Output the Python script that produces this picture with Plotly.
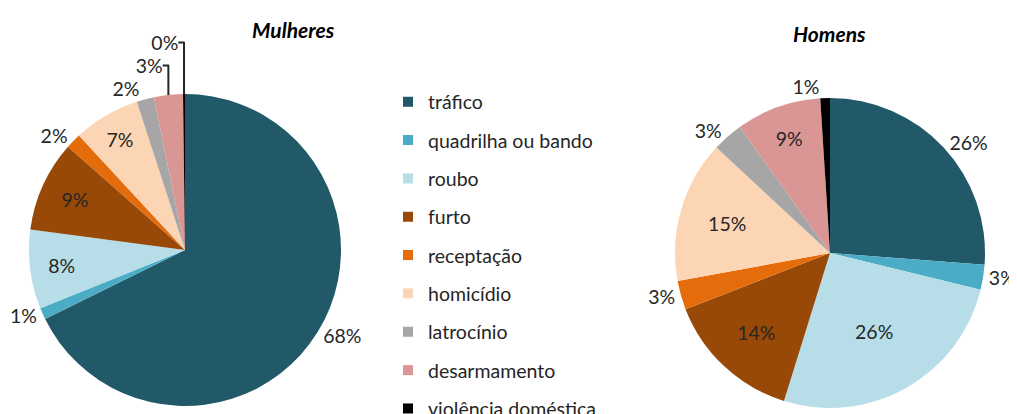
import plotly.graph_objects as go

categories = ["tráfico", "quadrilha ou bando", "roubo", "furto", "receptação",
              "homicídio", "latrocínio", "desarmamento", "violência doméstica"]
mulheres = [67.7, 1.2, 8.2, 9.4, 1.6, 6.9, 1.8, 3.0, 0.2]
homens = [26.2, 2.6, 26.0, 14.3, 3.0, 14.8, 3.2, 8.9, 1.0]
colors = ["#215968", "#4BACC6", "#B7DEE8", "#984807", "#E46C0A",
          "#FCD5B5", "#A6A6A6", "#D99694", "#000000"]
pos_m = ["outside", "outside", "inside", "inside", "outside", "inside", "outside", "outside", "outside"]
pos_h = ["outside", "outside", "inside", "inside", "outside", "inside", "outside", "inside", "outside"]

FONT = "Lato, Carlito, Calibri, sans-serif"
TXT = "#262626"
W, H = 1017, 414

fig = go.Figure()
fig.add_trace(go.Pie(
    labels=categories, values=mulheres, sort=False, direction="clockwise", rotation=0,
    marker=dict(colors=colors, line=dict(width=0)),
    textposition=pos_m, texttemplate="%{percent:.0%}", insidetextorientation="horizontal",
    textfont=dict(family=FONT, size=19.5, color=TXT),
    domain=dict(x=[21 / W, 333 / W], y=[16 / H, 328 / H]), showlegend=False,
))
fig.add_trace(go.Pie(
    labels=categories, values=homens, sort=False, direction="clockwise", rotation=0,
    marker=dict(colors=colors, line=dict(width=0)),
    textposition=pos_h, texttemplate="%{percent:.0%}", insidetextorientation="horizontal",
    textfont=dict(family=FONT, size=19.5, color=TXT),
    domain=dict(x=[667 / W, 977 / W], y=[14 / H, 324 / H]), showlegend=False,
))
for i, (cat, col) in enumerate(zip(categories, colors)):
    fig.add_trace(go.Scatter(
        x=[None], y=[None], mode="markers", name=cat, legendgroup=cat,
        marker=dict(symbol="square", size=10, color=col), showlegend=True,
    ))

fig.update_layout(
    width=W, height=H, margin=dict(l=0, r=0, t=0, b=0, autoexpand=False),
    paper_bgcolor="white", plot_bgcolor="white",
    xaxis=dict(visible=False), yaxis=dict(visible=False),
    legend=dict(x=380 / W, xanchor="left", y=1 - 74.5 / H, yanchor="top",
                font=dict(family=FONT, size=19.5, color=TXT),
                tracegroupgap=10, itemwidth=30, bgcolor="rgba(0,0,0,0)",
                maxheight=1000),
    annotations=[
        dict(text="<b><i>Mulheres</i></b>", x=285 / W, y=1 - 21 / H, xref="paper", yref="paper",
             xanchor="center", yanchor="middle",
             showarrow=False, font=dict(family=FONT, size=21, color="#000000")),
        dict(text="<b><i>Homens</i></b>", x=821 / W, y=1 - 25 / H, xref="paper", yref="paper",
             xanchor="center", yanchor="middle",
             showarrow=False, font=dict(family=FONT, size=21, color="#000000")),
    ],
)
fig.write_html("out.html")
